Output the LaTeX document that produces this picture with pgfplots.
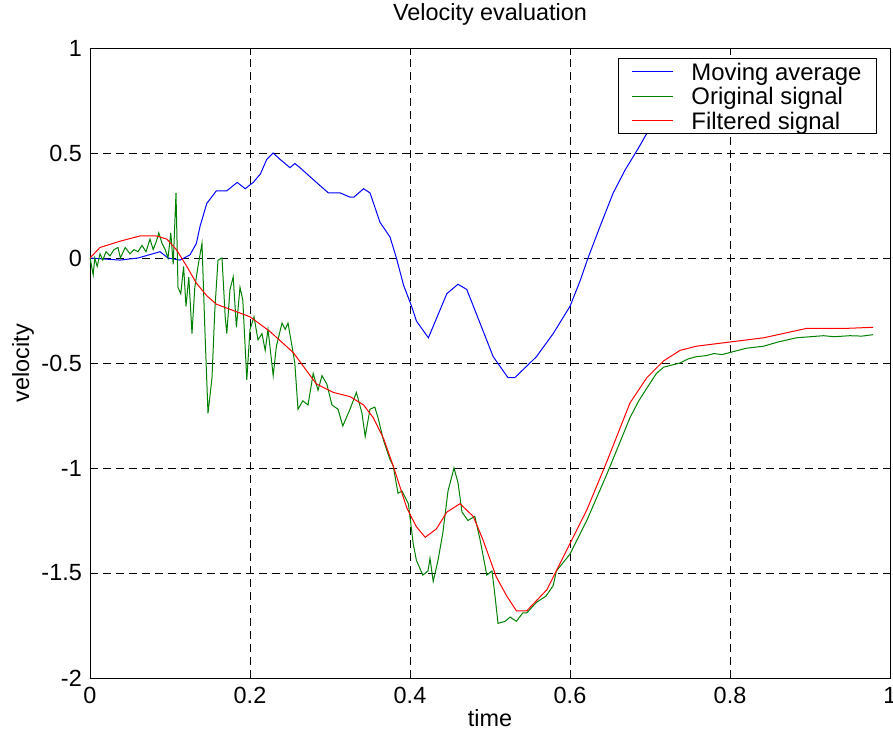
\documentclass[border=0pt]{standalone}
\usepackage{pgfplots}
\pgfplotsset{compat=1.18}
\usepackage{fontspec}
\setmainfont{Liberation Sans}
\definecolor{mblue}{RGB}{0,0,255}
\definecolor{mgreen}{RGB}{0,128,0}
\definecolor{mred}{RGB}{255,0,0}
\newcommand{\lgs}{\rule[-9bp]{0pt}{28bp}\hspace{16bp}}
\begin{document}
\begin{tikzpicture}
\begin{axis}[
  at={(0,0)}, anchor=south west,
  scale only axis, width=800bp, height=630bp,
  xmin=0, xmax=1, ymin=-2, ymax=1,
  xtick={0,0.2,0.4,0.6,0.8,1},
  ytick={-2,-1.5,-1,-0.5,0,0.5,1},
  /pgf/number format/assume math mode=true,
  tick label style={font=\fontsize{23.5}{27}\selectfont},
  xticklabel style={anchor=north, inner sep=0pt, yshift=-9bp},
  yticklabel style={anchor=east, inner sep=0pt, xshift=-8bp},
  label style={font=\fontsize{23.5}{27}\selectfont},
  title style={font=\fontsize{23.5}{27}\selectfont, at={(axis description cs:0.5,1)}, anchor=center, yshift=28bp},
  title={Velocity evaluation},
  xlabel={time}, ylabel={velocity},
  xlabel style={at={(axis description cs:0.5,0)}, anchor=center, yshift=-40bp},
  ylabel style={at={(axis description cs:0,0.5)}, anchor=center, yshift=67bp},
  tick pos=both, tick align=inside, major tick length=7bp,
  axis line style={line width=0.9bp},
  every tick/.style={black, line width=0.8bp},
  grid=major,
  major grid style={black, line width=0.8bp, dash pattern=on 8bp off 5bp},
  legend style={at={(rel axis cs:1,1)}, anchor=north east, xshift=-13bp, yshift=-10bp,
    font=\fontsize{24}{27}\selectfont, draw=black, line width=0.9bp, fill=white,
    inner xsep=13bp, inner ysep=1bp},
  legend cell align=left,
  legend image code/.code={\draw[#1, line width=1bp] (0bp,0bp) -- (41bp,0bp);},
  clip=true,
]
\addplot[mblue, line width=1bp] coordinates {
(0,0) (0.0375,-0.01) (0.06,0.0) (0.0875,0.03) (0.0975,0.0) (0.1125,-0.01)
(0.125,0.015) (0.133,0.07) (0.1375,0.15) (0.146,0.26) (0.158,0.32) (0.171,0.32)
(0.184,0.36) (0.194,0.33) (0.204,0.36) (0.213,0.40) (0.221,0.47) (0.229,0.50)
(0.2375,0.47) (0.25,0.43) (0.256,0.45) (0.2625,0.43) (0.283,0.36) (0.298,0.31)
(0.3125,0.31) (0.325,0.29) (0.33,0.29) (0.342,0.33) (0.35,0.31) (0.3625,0.17)
(0.375,0.10) (0.383,0.0) (0.392,-0.13) (0.402,-0.23) (0.408,-0.30) (0.423,-0.38)
(0.446,-0.17) (0.46,-0.125) (0.471,-0.15) (0.4875,-0.31) (0.504,-0.47) (0.5225,-0.57)
(0.531,-0.57) (0.558,-0.47) (0.579,-0.36) (0.6,-0.23) (0.6125,-0.11) (0.6225,0.0)
(0.6375,0.15) (0.654,0.31) (0.669,0.42) (0.685,0.52) (0.70,0.62)
};
\addlegendentry{\lgs Moving average}
\addplot[mgreen, line width=1bp] coordinates {
(0,0) (0.004,-0.08) (0.006,0.0) (0.009,-0.04) (0.0125,0.02) (0.016,-0.01)
(0.02,0.03) (0.025,0.01) (0.03,0.04) (0.035,0.05) (0.038,0.0) (0.044,0.05)
(0.05,0.02) (0.055,0.04) (0.06,0.03) (0.065,0.06) (0.07,0.03) (0.075,0.09)
(0.079,0.04) (0.083,0.08) (0.086,0.12) (0.09,0.07) (0.094,0.04) (0.0975,0.0)
(0.101,0.12) (0.104,-0.03) (0.1075,0.31) (0.11,-0.14) (0.1135,-0.17) (0.117,-0.04)
(0.12,-0.23) (0.1235,-0.09) (0.1275,-0.36) (0.131,-0.14) (0.135,-0.04) (0.14,0.07)
(0.1435,-0.33) (0.1475,-0.74) (0.1525,-0.57) (0.156,-0.25) (0.16,-0.01) (0.165,0.0)
(0.169,-0.28) (0.171,-0.36) (0.175,-0.15) (0.179,-0.09) (0.183,-0.33) (0.1875,-0.14)
(0.191,-0.2) (0.196,-0.58) (0.2,-0.34) (0.205,-0.28) (0.21,-0.39) (0.215,-0.36)
(0.219,-0.44) (0.2225,-0.34) (0.229,-0.56) (0.233,-0.42) (0.24,-0.31) (0.244,-0.34)
(0.2475,-0.31) (0.2525,-0.42) (0.256,-0.50) (0.26,-0.72) (0.266,-0.68) (0.2725,-0.70)
(0.279,-0.55) (0.285,-0.63) (0.29,-0.56) (0.296,-0.60) (0.3025,-0.70) (0.31,-0.72)
(0.316,-0.80) (0.325,-0.72) (0.333,-0.64) (0.34,-0.74) (0.344,-0.85) (0.35,-0.72)
(0.356,-0.71) (0.36,-0.76) (0.367,-0.87) (0.375,-0.96) (0.379,-0.99) (0.385,-1.12)
(0.39,-1.11) (0.398,-1.17) (0.404,-1.36) (0.408,-1.44) (0.416,-1.51) (0.4225,-1.49)
(0.425,-1.43) (0.429,-1.54) (0.435,-1.44) (0.441,-1.31) (0.4475,-1.11) (0.455,-1.00)
(0.46,-1.07) (0.465,-1.21) (0.4725,-1.25) (0.481,-1.23) (0.4875,-1.34) (0.496,-1.51)
(0.5025,-1.49) (0.506,-1.60) (0.51,-1.74) (0.519,-1.73) (0.525,-1.71) (0.529,-1.72)
(0.533,-1.73) (0.541,-1.69) (0.546,-1.69) (0.558,-1.64) (0.57,-1.61) (0.579,-1.56)
(0.583,-1.49) (0.6,-1.41) (0.621,-1.25) (0.646,-1.03) (0.66,-0.90) (0.675,-0.76)
(0.686,-0.68) (0.696,-0.62) (0.708,-0.55) (0.717,-0.52) (0.727,-0.51) (0.7375,-0.50)
(0.748,-0.48) (0.758,-0.47) (0.77,-0.465) (0.78,-0.455) (0.79,-0.46) (0.8,-0.45)
(0.82,-0.43) (0.842,-0.42) (0.86,-0.40) (0.883,-0.38) (0.9,-0.375) (0.917,-0.37)
(0.93,-0.375) (0.95,-0.37) (0.965,-0.372) (0.979,-0.365)
};
\addlegendentry{\lgs Original signal}
\addplot[mred, line width=1bp] coordinates {
(0,0) (0.0125,0.05) (0.0375,0.08) (0.0625,0.105) (0.083,0.105) (0.096,0.09)
(0.108,0.04) (0.121,-0.04) (0.133,-0.12) (0.146,-0.18) (0.158,-0.22) (0.179,-0.25)
(0.2,-0.28) (0.225,-0.35) (0.254,-0.45) (0.283,-0.60) (0.304,-0.64) (0.325,-0.66)
(0.342,-0.70) (0.354,-0.76) (0.367,-0.86) (0.379,-0.99) (0.396,-1.19) (0.408,-1.28)
(0.419,-1.33) (0.433,-1.29) (0.446,-1.21) (0.4625,-1.17) (0.479,-1.23) (0.491,-1.34)
(0.508,-1.52) (0.521,-1.61) (0.533,-1.68) (0.546,-1.68) (0.571,-1.58) (0.596,-1.39)
(0.621,-1.20) (0.646,-0.97) (0.675,-0.69) (0.696,-0.57) (0.717,-0.49) (0.7375,-0.44)
(0.758,-0.42) (0.8,-0.40) (0.842,-0.38) (0.896,-0.335) (0.946,-0.335) (0.979,-0.33)
};
\addlegendentry{\lgs Filtered signal}
\end{axis}
\pgfresetboundingbox
\useasboundingbox (-90bp,-66bp) rectangle (803bp,678bp);
\end{tikzpicture}
\end{document}
